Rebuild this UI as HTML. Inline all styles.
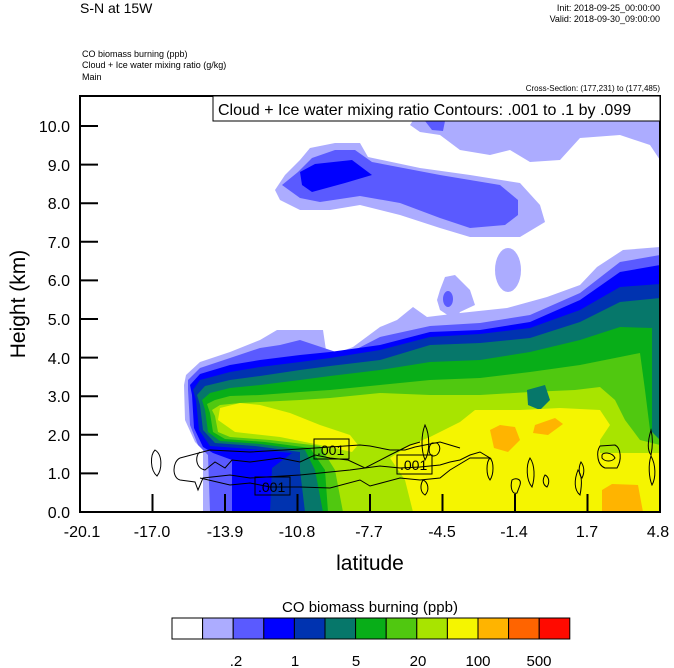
<!DOCTYPE html>
<html><head><meta charset="utf-8"><style>
body{margin:0;background:#fff;}
svg{display:block;font-family:"Liberation Sans",sans-serif;}
</style></head><body>
<svg width="674" height="668" viewBox="0 0 674 668" xmlns="http://www.w3.org/2000/svg">
<rect width="674" height="668" fill="#fff"/>
<!-- upper clouds -->
<polygon fill="#acacff" points="410,125 420,110 660,110 660,160 650,145 620,135 580,138 560,160 530,162 510,150 490,155 460,150 440,135 420,132"/>
<polygon fill="#5a5aff" points="425,121 445,121 443,131 432,130"/>
<polygon fill="#acacff" points="275,190 285,175 300,160 310,148 335,143 360,143 368,157 420,168 470,175 520,183 540,205 545,222 520,237 470,237 440,228 400,215 360,205 330,210 300,210 280,200"/>
<polygon fill="#5a5aff" points="282,185 298,172 312,158 335,150 355,150 372,162 440,175 500,185 518,200 518,215 505,225 470,228 440,218 400,203 360,196 320,202 300,198"/>
<polygon fill="#0000ff" points="300,172 315,164 352,160 372,175 345,183 312,192 302,185"/>
<ellipse cx="508" cy="270" rx="13" ry="22" fill="#acacff"/>
<polygon fill="#acacff" points="440,290 445,277 455,275 470,290 475,305 460,312 455,320 440,310 437,300"/>
<ellipse cx="448" cy="299" rx="5" ry="8" fill="#5a5aff"/>
<!-- plume layers -->
<polygon fill="#acacff" points="186,375 200,362 230,352 260,340 277,330 323,330 327,357 353,347 380,327 397,320 413,307 427,317 460,313 507,308 547,297 580,285 597,267 623,250 660,247 660,512 203,512 203,450 195,442 185,420 184,385"/>
<polygon fill="#5a5aff" points="188,380 200,368 230,358 260,348 280,345 300,340 315,345 345,355 380,337 430,326 480,323 530,315 580,293 620,262 660,255 660,512 210,512 208,455 198,445 190,425 188,390"/>
<polygon fill="#0000ff" points="190,385 200,374 230,365 260,360 300,355 330,352 380,345 430,332 480,330 530,322 580,300 620,272 660,265 660,512 232,512 232,460 213,453 203,447 194,428 192,395"/>
<polygon fill="#0033b0" points="193,390 200,380 230,372 260,367 300,362 330,358 380,350 430,337 480,334 530,328 580,310 620,287 660,284 660,512 270,512 272,468 292,453 250,449 210,446 199,430 196,400"/>
<polygon fill="#06776a" points="197,395 205,386 230,380 260,376 300,370 330,366 380,360 430,345 480,343 530,338 580,322 620,302 660,298 660,512 305,512 300,470 300,452 255,446 215,443 203,430 200,405"/>
<polygon fill="#08ae18" points="202,400 210,393 230,388 260,385 300,380 330,376 380,370 430,362 480,360 530,352 580,340 620,327 652,328 652,512 323,512 315,470 305,450 260,444 220,441 208,432 205,410"/>
<polygon fill="#50c810" points="207,404 215,400 230,396 260,395 300,392 330,390 380,385 430,380 480,378 530,372 580,365 620,357 640,353 645,390 650,430 660,440 660,512 328,512 325,470 310,448 265,442 225,439 213,432 210,413"/>
<polygon fill="#a8e400" points="212,410 220,405 240,403 260,402 300,400 330,398 380,393 430,395 480,395 530,392 575,390 600,387 615,400 625,420 640,440 660,445 660,512 343,512 335,470 320,446 270,440 230,437 218,432 215,416"/>
<polygon fill="#06776a" points="527,390 545,385 550,400 540,410 528,405"/>
<polygon fill="#f5f500" points="220,408 240,403 260,405 290,413 320,425 350,435 358,445 352,452 320,445 280,437 235,432 218,420"/>
<polygon fill="#f5f500" points="390,458 410,445 430,437 460,422 475,410 520,410 560,408 600,410 610,425 600,440 600,453 660,453 660,512 413,512 405,480"/>
<polygon fill="#ffb400" points="490,430 500,425 515,427 520,440 508,452 494,448"/>
<polygon fill="#ffb400" points="535,425 555,418 563,424 548,435 533,433"/>
<polygon fill="#ffb400" points="602,490 612,484 638,485 643,512 602,512"/>
<!-- contours -->
<g fill="none" stroke="#000" stroke-width="1">
<path d="M155,450 C150,455 150,470 157,476 C162,470 163,455 155,450Z"/>
<path d="M180,458 C172,462 172,478 180,480 L195,482 L198,490 L203,478 L230,475 L250,478 L300,475 L350,470 L380,466 L400,468 L420,467 L440,465 L450,462 L460,460 L470,455 L480,452 L490,458 L470,458 L450,470 L440,478 L420,480 L400,478 L385,482 L370,486 L360,480 L330,488 L300,487 L270,487 L250,483 L230,485 L200,478"/>
<path d="M180,458 L210,450 L250,452 L300,449 L330,447 L360,445 L370,446 L390,450 L405,450 L415,447 L430,444 L440,442 L450,445 L460,448"/>
<path d="M200,452 C195,455 195,468 205,470 L215,462 L225,468 L232,460 L250,462 L280,458 L300,462 L315,455 L330,458 L348,460 L365,468 L390,455 L410,445 L420,442"/>
<path d="M425,425 C421,435 421,450 425,460 C430,452 430,435 425,425Z"/>
<path d="M432,443 C428,446 428,455 433,456 C440,456 442,446 437,443Z"/>
<path d="M423,480 C420,485 420,492 425,495 C430,490 428,482 423,480Z"/>
<path d="M490,458 C486,462 486,475 490,480 C494,474 494,462 490,458Z"/>
<path d="M512,480 C510,487 512,495 517,493 L520,485 C522,478 515,478 512,480Z"/>
<path d="M530,458 C526,465 526,480 532,487 C535,478 535,465 530,458Z"/>
<path d="M545,475 C542,480 543,485 547,487 C550,482 549,477 545,475Z"/>
<path d="M578,470 C574,480 574,490 580,495 C582,485 582,475 578,470Z"/>
<path d="M600,446 C596,452 597,465 605,468 L617,468 C622,460 621,448 615,445Z"/>
<path d="M602,455 C603,452 612,452 615,458 C612,462 605,462 602,458Z"/>
<path d="M581,462 C578,468 579,475 582,478 C585,472 584,466 581,462Z"/>
<path d="M651,430 C648,440 647,450 651,455 C653,445 653,438 651,430Z"/>
<path d="M651,456 C648,465 649,478 652,485 C656,478 656,465 651,456Z"/>
</g>
<!-- contour labels -->
<g font-size="14" fill="#000">
<rect x="314" y="439" width="35" height="20" fill="none" stroke="#000"/>
<text x="317" y="455">.001</text>
<rect x="397" y="455" width="35" height="19" fill="none" stroke="#000"/>
<text x="400" y="470">.001</text>
<rect x="255" y="477" width="35" height="18" fill="none" stroke="#000"/>
<text x="258" y="492">.001</text>
</g>
<!-- frame -->
<rect x="80" y="96" width="580" height="416" fill="none" stroke="#000" stroke-width="2"/>
<g stroke="#000" stroke-width="2">
<line x1="80" y1="512" x2="98" y2="512"/><line x1="80" y1="473.4" x2="98" y2="473.4"/><line x1="80" y1="434.8" x2="98" y2="434.8"/><line x1="80" y1="396.2" x2="98" y2="396.2"/><line x1="80" y1="357.6" x2="98" y2="357.6"/><line x1="80" y1="319" x2="98" y2="319"/><line x1="80" y1="280.4" x2="98" y2="280.4"/><line x1="80" y1="241.8" x2="98" y2="241.8"/><line x1="80" y1="203.2" x2="98" y2="203.2"/><line x1="80" y1="164.6" x2="98" y2="164.6"/><line x1="80" y1="126" x2="98" y2="126"/>
<line x1="152.5" y1="494" x2="152.5" y2="512"/><line x1="225" y1="494" x2="225" y2="512"/><line x1="297.5" y1="494" x2="297.5" y2="512"/><line x1="370" y1="494" x2="370" y2="512"/><line x1="442.5" y1="494" x2="442.5" y2="512"/><line x1="515" y1="494" x2="515" y2="512"/><line x1="587.5" y1="494" x2="587.5" y2="512"/>
</g>
<g font-size="16" fill="#000" text-anchor="end">
<text x="70" y="518">0.0</text><text x="70" y="479">1.0</text><text x="70" y="441">2.0</text><text x="70" y="402">3.0</text><text x="70" y="364">4.0</text><text x="70" y="325">5.0</text><text x="70" y="286">6.0</text><text x="70" y="248">7.0</text><text x="70" y="209">8.0</text><text x="70" y="171">9.0</text><text x="70" y="132">10.0</text>
</g>
<g font-size="16" fill="#000" text-anchor="middle">
<text x="82" y="537">-20.1</text><text x="152" y="537">-17.0</text><text x="225" y="537">-13.9</text><text x="297" y="537">-10.8</text><text x="369" y="537">-7.7</text><text x="442" y="537">-4.5</text><text x="514" y="537">-1.4</text><text x="587" y="537">1.7</text><text x="658" y="537">4.8</text>
</g>
<text x="370" y="570" font-size="21" text-anchor="middle">latitude</text>
<text transform="translate(25,304) rotate(-90)" font-size="21" text-anchor="middle">Height (km)</text>
<!-- title box -->
<rect x="213" y="96" width="447" height="25" fill="#fff" stroke="#000" stroke-width="1"/>
<text x="218" y="115" font-size="16">Cloud + Ice water mixing ratio Contours: .001 to .1 by .099</text>
<!-- header text -->
<text x="80" y="13" font-size="14">S-N at 15W</text>
<text x="660" y="11" font-size="9" text-anchor="end">Init: 2018-09-25_00:00:00</text>
<text x="660" y="22" font-size="9" text-anchor="end">Valid: 2018-09-30_09:00:00</text>
<text x="82" y="57" font-size="9">CO biomass burning   (ppb)</text>
<text x="82" y="68" font-size="9">Cloud + Ice water mixing ratio   (g/kg)</text>
<text x="82" y="80" font-size="9">Main</text>
<text x="660" y="91" font-size="8" text-anchor="end">Cross-Section: (177,231) to (177,485)</text>
<!-- colorbar -->
<text x="370" y="612" font-size="15" text-anchor="middle">CO biomass burning  (ppb)</text>
<g stroke="#000" stroke-width="1">
<rect x="172" y="618" width="30.6" height="21" fill="#fff"/>
<rect x="202.6" y="618" width="30.6" height="21" fill="#acacff"/>
<rect x="233.2" y="618" width="30.6" height="21" fill="#5a5aff"/>
<rect x="263.8" y="618" width="30.6" height="21" fill="#0000ff"/>
<rect x="294.4" y="618" width="30.6" height="21" fill="#0033b0"/>
<rect x="325" y="618" width="30.6" height="21" fill="#06776a"/>
<rect x="355.6" y="618" width="30.6" height="21" fill="#08ae18"/>
<rect x="386.2" y="618" width="30.6" height="21" fill="#50c810"/>
<rect x="416.8" y="618" width="30.6" height="21" fill="#a8e400"/>
<rect x="447.4" y="618" width="30.6" height="21" fill="#f5f500"/>
<rect x="478" y="618" width="30.6" height="21" fill="#ffb400"/>
<rect x="508.6" y="618" width="30.6" height="21" fill="#ff6400"/>
<rect x="539.2" y="618" width="30.6" height="21" fill="#ff0a00"/>
</g>
<g font-size="15" text-anchor="middle">
<text x="236" y="666">.2</text><text x="295" y="666">1</text><text x="356" y="666">5</text><text x="418" y="666">20</text><text x="478" y="666">100</text><text x="539" y="666">500</text>
</g>
</svg>
</body></html>
